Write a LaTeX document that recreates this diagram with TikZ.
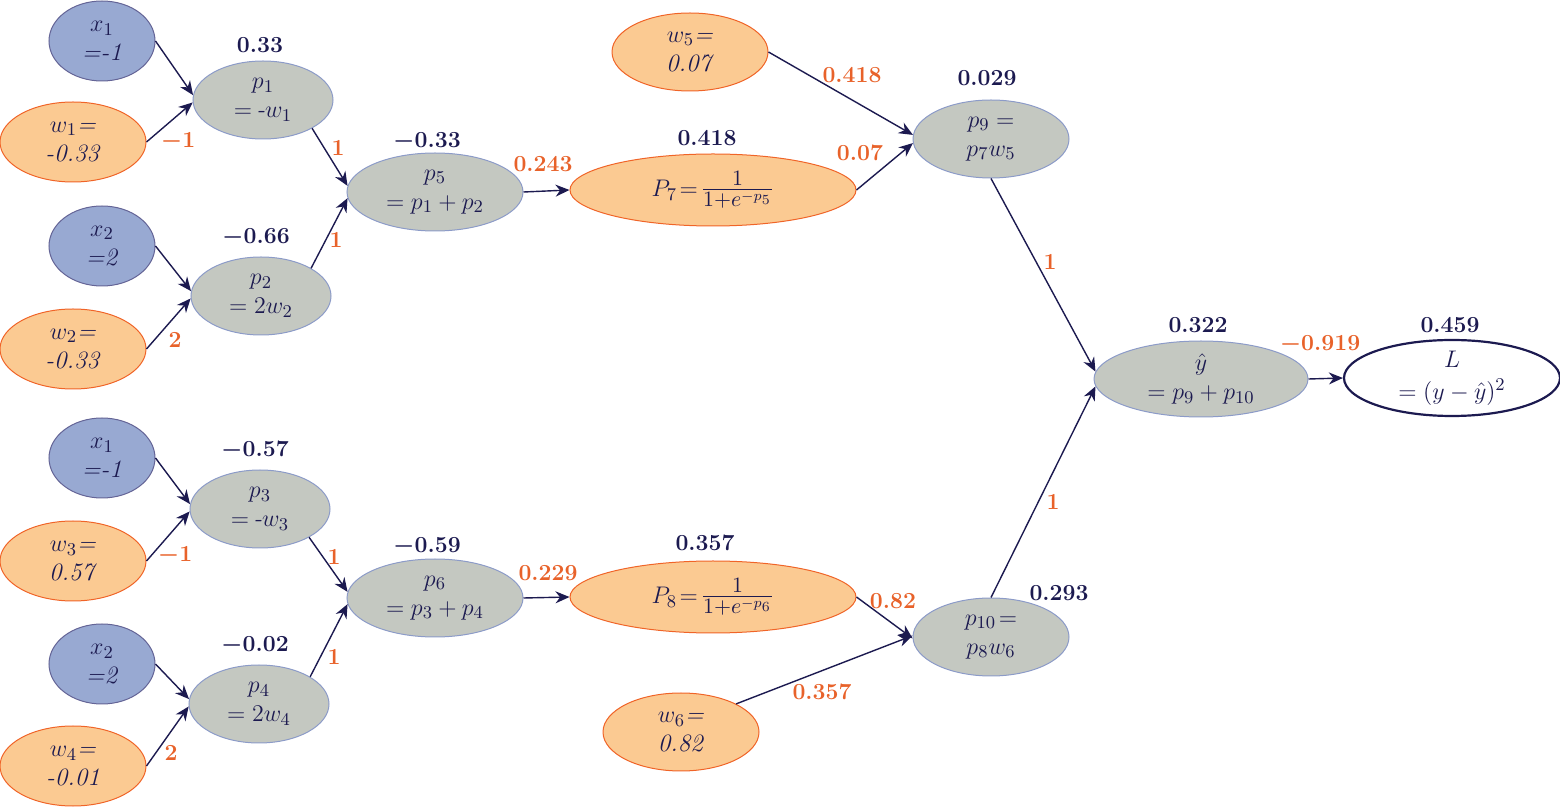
\documentclass[tikz,border=0pt]{standalone}
\usepackage{amsmath}
\usetikzlibrary{shapes.geometric,arrows.meta}
\definecolor{navy}{RGB}{28,26,80}
\definecolor{orangeT}{RGB}{232,98,42}
\definecolor{blueF}{RGB}{152,169,210}
\definecolor{blueD}{RGB}{100,100,150}
\definecolor{orangeF}{RGB}{251,202,146}
\definecolor{orangeD}{RGB}{240,100,40}
\definecolor{greyF}{RGB}{196,200,193}
\definecolor{greyD}{RGB}{140,155,200}
\newcommand{\bigfrac}[2]{\mbox{\fontsize{15}{17}\selectfont$\frac{#1}{#2}$}}
\tikzset{
  base/.style={ellipse,inner sep=0pt,line width=0.5pt},
  bnode/.style={base,fill=blueF,draw=blueD,minimum width=53pt,minimum height=40pt},
  onode/.style={base,fill=orangeF,draw=orangeD,minimum width=73pt,minimum height=40pt},
  wnode/.style={base,fill=orangeF,draw=orangeD,minimum width=78pt,minimum height=39pt},
  gsmall/.style={base,fill=greyF,draw=greyD,minimum width=70pt,minimum height=39pt},
  gmid/.style={base,fill=greyF,draw=greyD,minimum width=88pt,minimum height=39pt},
  sig/.style={base,fill=orangeF,draw=orangeD,minimum width=143pt,minimum height=36pt},
  gprod/.style={base,fill=greyF,draw=greyD,minimum width=78pt,minimum height=39pt},
  gsum/.style={base,fill=greyF,draw=greyD,minimum width=107pt,minimum height=38pt},
  lnode/.style={base,fill=white,draw=navy,line width=1.1pt,minimum width=108pt,minimum height=38pt},
  ntxt/.style={align=center,text=navy,inner sep=0pt,font=\fontsize{12.5}{14.5}\selectfont},
  val/.style={text=navy,inner sep=0pt,font=\fontsize{11.5}{13}\selectfont\bfseries},
  grad/.style={text=orangeT,inner sep=0pt,font=\fontsize{11.5}{13}\selectfont\bfseries},
  conn/.style={draw=navy,line width=0.7pt,-{Stealth[length=7pt,width=6pt]}}
}
\begin{document}
\begin{tikzpicture}[x=0.5pt,y=-0.5pt]
\useasboundingbox (0,0) rectangle (1560,812);
% ---------- top half ----------
\node[bnode] (x1a) at (102,41) {};
\node[onode] (w1) at (73,142) {};
\node[gsmall] (p1) at (263,100) {};
\node[bnode] (x2a) at (102,246) {};
\node[onode] (w2) at (73,349) {};
\node[gsmall] (p2) at (261,296) {};
\node[gmid] (p5) at (435,192) {};
\node[sig] (P7) at (713,190) {};
\node[wnode] (w5) at (690,52) {};
\node[gprod] (p9) at (991,139) {};
% ---------- bottom half ----------
\node[bnode] (x1b) at (102,458) {};
\node[onode] (w3) at (73,561) {};
\node[gsmall] (p3) at (260,509) {};
\node[bnode] (x2b) at (102,664) {};
\node[onode] (w4) at (73,766) {};
\node[gsmall] (p4) at (259,704) {};
\node[gmid] (p6) at (435,598) {};
\node[sig] (P8) at (713,597) {};
\node[wnode] (w6) at (681,732) {};
\node[gprod] (p10) at (991,637) {};
% ---------- output ----------
\node[gsum] (yh) at (1201,379) {};
\node[lnode] (L) at (1452,378) {};
% ---------- texts ----------
\node[ntxt] at (x1a) {$x_1$\\\textit{=-1}};
\node[ntxt] at (w1) {$w_1$\textit{=}\\\textit{-0.33}};
\node[ntxt] at (p1) {$p_1$\\$=$\,\textit{-}$w_1$};
\node[ntxt] at (x2a) {$x_2$\\\textit{=2}};
\node[ntxt] at (w2) {$w_2$\textit{=}\\\textit{-0.33}};
\node[ntxt] at (p2) {$p_2$\\$=2w_2$};
\node[ntxt] at (p5) {$p_5$\\$=p_1+p_2$};
\node[ntxt] at (P7) {$P_7\!=\!\bigfrac{1}{1+e^{-p_5}}$};
\node[ntxt] at (w5) {$w_5$\textit{=}\\\textit{0.07}};
\node[ntxt] at (p9) {$p_9=$\\$p_7w_5$};
\node[ntxt] at (x1b) {$x_1$\\\textit{=-1}};
\node[ntxt] at (w3) {$w_3$\textit{=}\\\textit{0.57}};
\node[ntxt] at (p3) {$p_3$\\$=$\,\textit{-}$w_3$};
\node[ntxt] at (x2b) {$x_2$\\\textit{=2}};
\node[ntxt] at (w4) {$w_4$\textit{=}\\\textit{-0.01}};
\node[ntxt] at (p4) {$p_4$\\$=2w_4$};
\node[ntxt] at (p6) {$p_6$\\$=p_3+p_4$};
\node[ntxt] at (P8) {$P_8\!=\!\bigfrac{1}{1+e^{-p_6}}$};
\node[ntxt] at (w6) {$w_6$\textit{=}\\\textit{0.82}};
\node[ntxt] at (p10) {$p_{10}\!=$\\$p_8w_6$};
\node[ntxt] at (yh) {$\hat{y}$\\$=p_9+p_{10}$};
\node[ntxt,font=\fontsize{12.5}{16}\selectfont] at (L) {$L$\\$=(y-\hat{y})^2$};
% ---------- values ----------
\node[val] (v1) at (260,45) {0.33};
\node[val] (v2) at (256,238) {$\boldsymbol{-}$0.66};
\node[val] (v3) at (255,450) {$\boldsymbol{-}$0.57};
\node[val] (v4) at (255,646) {$\boldsymbol{-}$0.02};
\node[val] (v5) at (427,142) {$\boldsymbol{-}$0.33};
\node[val] (v7) at (707,138) {0.418};
\node[val] (v9) at (987,78) {0.029};
\node[val] (v6) at (427,547) {$\boldsymbol{-}$0.59};
\node[val] (v8) at (705,543) {0.357};
\node[val] (v10) at (1059,593) {0.293};
\node[val] (vy) at (1198,325) {0.322};
\node[val] (vL) at (1450,325) {0.459};
% ---------- connectors ----------
\draw[conn] (x1a.east) -- (p1.176);
\draw[conn] (w1.east) -- (p1.182);
\draw[conn] (x2a.east) -- (p2.176);
\draw[conn] (w2.east) -- (p2.182);
\draw[conn] (p1.-30) -- (p5.176);
\draw[conn] (p2.29) -- (p5.184);
\draw[conn] (p5.east) -- (P7.west);
\draw[conn] (P7.east) -- (p9.183);
\draw[conn] (w5.east) -- (p9.177);
\draw[conn] (x1b.east) -- (p3.176);
\draw[conn] (w3.east) -- (p3.182);
\draw[conn] (x2b.east) -- (p4.176);
\draw[conn] (w4.east) -- (p4.182);
\draw[conn] (p3.-30) -- (p6.176);
\draw[conn] (p4.28) -- (p6.184);
\draw[conn] (p6.east) -- (P8.west);
\draw[conn] (P8.east) -- (p10.181);
\draw[conn] (w6.27) -- (p10.179);
\draw[conn] (p9.south) -- (yh.176);
\draw[conn] (p10.north) -- (yh.184);
\draw[conn] (yh.east) -- (L.west);
% ---------- gradients ----------
\node[grad] at (178,142) {$\boldsymbol{-}$1};
\node[grad] at (175,340) {2};
\node[grad] at (338,148) {1};
\node[grad] at (336,240) {1};
\node[grad] at (175,556) {$\boldsymbol{-}$1};
\node[grad] at (171,753) {2};
\node[grad] at (334,557) {1};
\node[grad] at (334,657) {1};
\node[grad] at (543,164) {0.243};
\node[grad] at (548,573) {0.229};
\node[grad] at (852,75) {0.418};
\node[grad] at (860,153) {0.07};
\node[grad] at (893,601) {0.82};
\node[grad] at (822,692) {0.357};
\node[grad] at (1050,262) {1};
\node[grad] at (1053,502) {1};
\node[grad] at (1320,345) {$\boldsymbol{-}$0.919};
\end{tikzpicture}
\end{document}
